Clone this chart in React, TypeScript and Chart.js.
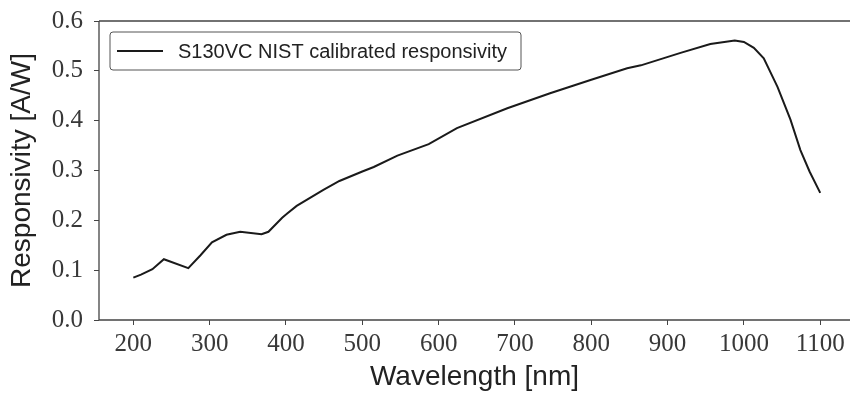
import React, { useEffect, useRef } from "react";
import { Chart, registerables } from "chart.js";

Chart.register(...registerables);

const wavelengths = [
  200, 210, 225, 240, 272, 288, 303, 322, 340, 368, 377, 395, 402, 414, 449, 470,
  500, 515, 546, 587, 624, 690, 746, 800, 847, 865, 917, 956, 988, 1000, 1013,
  1026, 1044, 1061, 1074, 1086, 1100,
];
const responsivity = [
  0.085, 0.091, 0.102, 0.122, 0.104, 0.13, 0.156, 0.171, 0.177, 0.172, 0.177, 0.205,
  0.214, 0.229, 0.261, 0.279, 0.298, 0.307, 0.33, 0.353, 0.385, 0.425, 0.455, 0.482,
  0.505, 0.511, 0.536, 0.554, 0.561, 0.558, 0.546, 0.525, 0.468, 0.402, 0.341, 0.298,
  0.255,
];
const xTickValues = [200, 300, 400, 500, 600, 700, 800, 900, 1000, 1100];
const yTickValues = [0, 0.1, 0.2, 0.3, 0.4, 0.5, 0.6];
const seriesLabel = "S130VC NIST calibrated responsivity";
const xTitle = "Wavelength [nm]";
const yTitle = "Responsivity [A/W]";

const SPINE = "#444444";
const TICK_FONT = "'Liberation Serif', serif";
const SANS = "'Liberation Sans', sans-serif";

const framePlugin = {
  id: "frameAndLegend",
  afterDraw(chart: any) {
    const { ctx, chartArea } = chart;
    const { left, top, right, bottom } = chartArea;
    ctx.save();
    ctx.strokeStyle = SPINE;
    ctx.lineWidth = 1.3;
    ctx.beginPath();
    ctx.moveTo(left, top);
    ctx.lineTo(right + 5, top);
    ctx.moveTo(left, top);
    ctx.lineTo(left, bottom);
    ctx.lineTo(right + 5, bottom);
    ctx.stroke();

    // legend
    const bx = left + 11;
    const by = top + 11;
    const bw = 411;
    const bh = 38;
    const r = 3;
    ctx.beginPath();
    ctx.moveTo(bx + r, by);
    ctx.lineTo(bx + bw - r, by);
    ctx.quadraticCurveTo(bx + bw, by, bx + bw, by + r);
    ctx.lineTo(bx + bw, by + bh - r);
    ctx.quadraticCurveTo(bx + bw, by + bh, bx + bw - r, by + bh);
    ctx.lineTo(bx + r, by + bh);
    ctx.quadraticCurveTo(bx, by + bh, bx, by + bh - r);
    ctx.lineTo(bx, by + r);
    ctx.quadraticCurveTo(bx, by, bx + r, by);
    ctx.closePath();
    ctx.fillStyle = "rgba(255,255,255,0.85)";
    ctx.fill();
    ctx.strokeStyle = "#555555";
    ctx.lineWidth = 1;
    ctx.stroke();

    const cy = by + bh / 2;
    ctx.strokeStyle = "#1a1a1a";
    ctx.lineWidth = 2;
    ctx.beginPath();
    ctx.moveTo(bx + 7, cy);
    ctx.lineTo(bx + 53, cy);
    ctx.stroke();

    ctx.fillStyle = "#222222";
    ctx.font = `20px ${SANS}`;
    ctx.textBaseline = "middle";
    ctx.textAlign = "left";
    ctx.fillText(chart.data.datasets[0].label, bx + 68, cy + 1);
    ctx.restore();
  },
};

export default function App() {
  const canvasRef = useRef<HTMLCanvasElement | null>(null);

  useEffect(() => {
    document.body.style.margin = "0";
    const canvas = canvasRef.current;
    if (!canvas) return;
    const chart = new Chart(canvas, {
      type: "line",
      data: {
        datasets: [
          {
            label: seriesLabel,
            data: wavelengths.map((w, i) => ({ x: w, y: responsivity[i] })),
            borderColor: "#1a1a1a",
            borderWidth: 2,
            pointRadius: 0,
            tension: 0,
            fill: false,
          },
        ],
      },
      options: {
        responsive: false,
        animation: false,
        devicePixelRatio: 1,
        layout: { padding: { top: 21, right: 0, left: 0, bottom: 0 } },
        plugins: {
          legend: { display: false },
          tooltip: { enabled: false },
        },
        scales: {
          x: {
            type: "linear",
            min: 155,
            max: 1139,
            afterBuildTicks: (scale: any) => {
              scale.ticks = xTickValues.map((v) => ({ value: v }));
            },
            afterFit: (scale: any) => {
              scale.height = 74;
              scale.paddingLeft = 0;
              scale.paddingRight = 0;
            },
            grid: {
              drawOnChartArea: false,
              drawTicks: true,
              tickLength: 5,
              tickColor: SPINE,
              tickWidth: 1,
            },
            border: { display: false },
            ticks: {
              autoSkip: false,
              maxRotation: 0,
              padding: 4,
              color: "#383838",
              font: { family: TICK_FONT, size: 25 },
              callback: (v: any) => String(v),
            },
            title: {
              display: true,
              text: xTitle,
              color: "#222222",
              font: { family: SANS, size: 28 },
              padding: { top: 0, bottom: 0 },
            },
          },
          y: {
            type: "linear",
            min: 0,
            max: 0.6,
            afterBuildTicks: (scale: any) => {
              scale.ticks = yTickValues.map((v) => ({ value: v }));
            },
            afterFit: (scale: any) => {
              scale.width = 99;
              scale.paddingTop = 0;
              scale.paddingBottom = 0;
            },
            grid: {
              drawOnChartArea: false,
              drawTicks: true,
              tickLength: 5,
              tickColor: SPINE,
              tickWidth: 1,
            },
            border: { display: false },
            ticks: {
              padding: 11,
              color: "#383838",
              font: { family: TICK_FONT, size: 25 },
              callback: (v: any) => Number(v).toFixed(1),
            },
            title: {
              display: true,
              text: yTitle,
              color: "#222222",
              font: { family: SANS, size: 28 },
              padding: { top: 5, bottom: 0 },
            },
          },
        },
      },
      plugins: [framePlugin],
    });
    return () => chart.destroy();
  }, []);

  return (
    <div style={{ width: 850, height: 394 }}>
      <canvas ref={canvasRef} width={850} height={394} />
    </div>
  );
}
